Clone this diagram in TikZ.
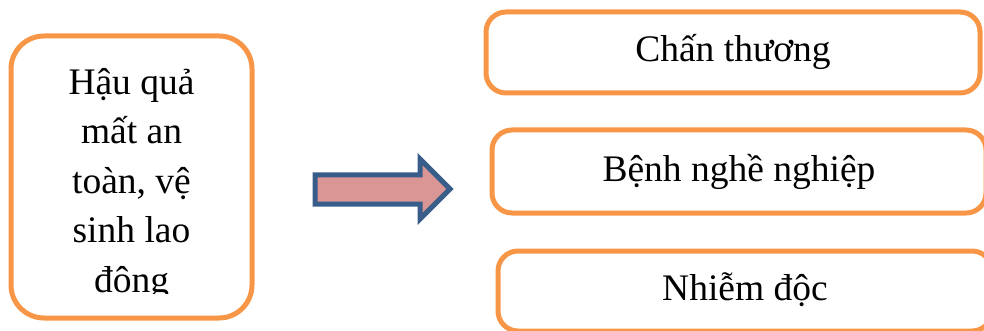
\documentclass[tikz,border=0pt]{standalone}
\usepackage{fontspec}
\setmainfont{Liberation Serif}
\definecolor{boxorange}{HTML}{F79646}
\definecolor{arrowblue}{HTML}{385D8A}
\definecolor{arrowpink}{HTML}{D99694}
\begin{document}
\begin{tikzpicture}[x=1pt,y=-1pt,
  box/.style={draw=boxorange, line width=5pt, rounded corners=#1, inner sep=0pt},
  label/.style={font=\fontsize{37.5}{49.5}\selectfont, inner sep=0pt, align=center}]
\useasboundingbox (0,0) rectangle (984,331);
\clip (0,0) rectangle (984,331);
% left box
\node[box=33pt, minimum width=241pt, minimum height=282pt] (src) at (131.5,177) {};
\begin{scope}
\clip (15,40) rectangle (248,293);
\node[label, anchor=base] (srctext) at (131.5,292) {Hậu quả\\mất an\\toàn, vệ\\sinh lao\\đông};
\end{scope}
% right boxes
\node[box=20pt, minimum width=494pt, minimum height=81pt] (b1) at (733,52.5) {};
\node[label, anchor=base] (t1) at (733,62) {Chấn thương};
\node[box=20pt, minimum width=494pt, minimum height=83pt] (b2) at (739,171.5) {};
\node[label, anchor=base] (t2) at (739,182) {Bệnh nghề nghiệp};
\node[box=20pt, minimum width=494pt, minimum height=80pt] (b3) at (745,291) {};
\node[label, anchor=base] (t3) at (745,300) {Nhiễm độc};
% block arrow
\draw[draw=arrowblue, fill=arrowpink, line width=5pt, line join=miter]
  (315,175) -- (420,175) -- (420,159) -- (450,189) -- (420,219) -- (420,204) -- (315,204) -- cycle;
\coordinate (arrowtail) at (315,189);
\coordinate (arrowtip) at (450,189);
\end{tikzpicture}
\end{document}
